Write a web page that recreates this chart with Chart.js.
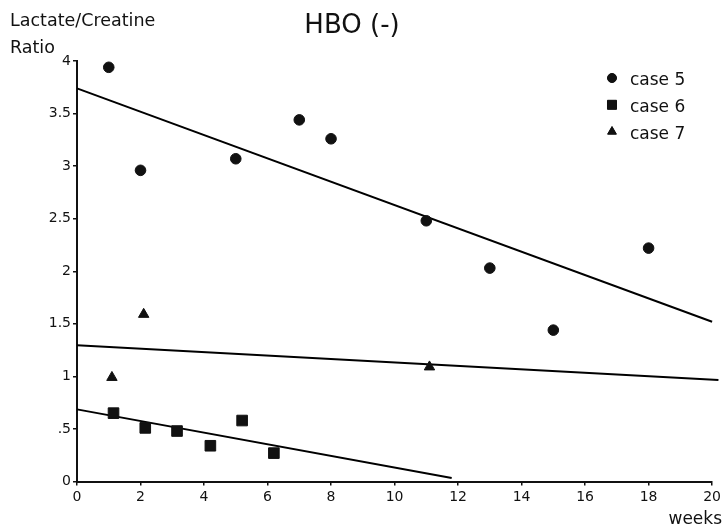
<!DOCTYPE html>
<html>
<head>
<meta charset="utf-8">
<script src="https://cdn.jsdelivr.net/npm/chart.js@4"></script>
<style>
html,body{margin:0;padding:0;background:#fff}
#wrap{width:724px;height:529px;position:relative}
</style>
</head>
<body>
<div id="wrap"><canvas id="ch1"></canvas></div>
<script>
// case 5 (circles)
const case5X = [1, 2, 5, 7, 8, 11, 13, 15, 18];
const case5Y = [3.94, 2.96, 3.07, 3.44, 3.26, 2.48, 2.03, 1.44, 2.22];
// case 6 (squares)
const case6X = [1.15, 2.15, 3.15, 4.2, 5.2, 6.2];
const case6Y = [0.65, 0.51, 0.48, 0.34, 0.58, 0.27];
// case 7 (triangles)
const case7X = [1.1, 2.1, 11.1];
const case7Y = [0.99, 1.59, 1.09];
// regression lines (end points)
const fit5X = [0, 20];
const fit5Y = [3.74, 1.52];
const fit6X = [0, 11.8];
const fit6Y = [0.686, 0.033];
const fit7X = [0, 20.2];
const fit7Y = [1.295, 0.965];

const xTicks = [0, 2, 4, 6, 8, 10, 12, 14, 16, 18, 20];
const yTicks = [0, 0.5, 1, 1.5, 2, 2.5, 3, 3.5, 4];
const legendLabels = ['case 5', 'case 6', 'case 7'];

const pts = (xs, ys) => xs.map((x, i) => ({x, y: ys[i]}));
const FONT = '"DejaVu Sans", sans-serif';

const scatterDs = (lbl, xs, ys, style, r) => ({
  type: 'scatter', label: lbl, data: pts(xs, ys),
  pointStyle: style, pointRadius: r, pointHoverRadius: r,
  backgroundColor: '#111', borderColor: '#111', borderWidth: 1
});
const lineDs = (xs, ys) => ({
  type: 'line', label: 'fit', data: pts(xs, ys),
  borderColor: '#000', borderWidth: 2, pointRadius: 0, fill: false, clip: false
});

const datasets = [
  scatterDs('case 5', case5X, case5Y, 'circle', 5.3),
  scatterDs('case 6', case6X, case6Y, 'rect', 7.5),
  scatterDs('case 7', case7X, case7Y, 'triangle', 6),
  lineDs(fit5X, fit5Y),
  lineDs(fit6X, fit6Y),
  lineDs(fit7X, fit7Y)
];

// textos fixos + legenda manual
const decor = {
  id: 'decor',
  afterDraw(c){
    const ctx = c.ctx;
    ctx.save();
    ctx.fillStyle = '#111';
    ctx.textBaseline = 'alphabetic';
    ctx.textAlign = 'left';
    ctx.font = '17.5px ' + FONT;
    ctx.fillText('Lactate/Creatine', 10, 26);
    ctx.fillText('Ratio', 10, 53);
    ctx.textAlign = 'right';
    ctx.font = '17px ' + FONT;
    ctx.fillText('weeks', 722, 524);
    ctx.textAlign = 'center';
    ctx.font = '26px ' + FONT;
    ctx.fillText('HBO (-)', 352, 33);
    // legenda
    ctx.textAlign = 'left';
    ctx.font = '17px ' + FONT;
    legendLabels.forEach((lbl, i) => {
      const y = 79 + i * 26.8;
      const ds = c.data.datasets[i];
      ctx.fillStyle = '#111';
      ctx.strokeStyle = '#111';
      Chart.helpers.drawPoint(ctx, {pointStyle: ds.pointStyle, radius: ds.pointRadius * 0.85, borderWidth: 1}, 612, y - 1);
      ctx.fill();
      ctx.fillText(lbl, 630, y + 6);
    });
    ctx.restore();
  }
};

new Chart(document.getElementById('ch1'), {
  data: {datasets},
  options: {
    responsive: true,
    maintainAspectRatio: false,
    animation: false,
    layout: {padding: {top: 61, right: 9, left: 0, bottom: 0}},
    plugins: {legend: {display: false}, tooltip: {enabled: false}},
    scales: {
      x: {
        type: 'linear', min: 0, max: 20,
        afterBuildTicks: s => { s.ticks = xTicks.map(v => ({value: v})); },
        afterFit: s => { s.height = 47.5; },
        ticks: {color: '#111', font: {family: FONT, size: 14}, padding: 3, maxRotation: 0},
        grid: {drawOnChartArea: false, color: '#111', tickLength: 4, lineWidth: 1.5},
        border: {color: '#111', width: 2}
      },
      y: {
        type: 'linear', min: 0, max: 4,
        afterBuildTicks: s => { s.ticks = yTicks.map(v => ({value: v})); },
        afterFit: s => { s.width = 77; },
        ticks: {
          color: '#111', font: {family: FONT, size: 14}, padding: 2,
          callback: v => (v > 0 && v < 1) ? String(v).replace(/^0/, '') : String(v)
        },
        grid: {drawOnChartArea: false, color: '#111', tickLength: 4, lineWidth: 1.5},
        border: {color: '#111', width: 2}
      }
    }
  },
  plugins: [decor]
});
</script>
</body>
</html>
